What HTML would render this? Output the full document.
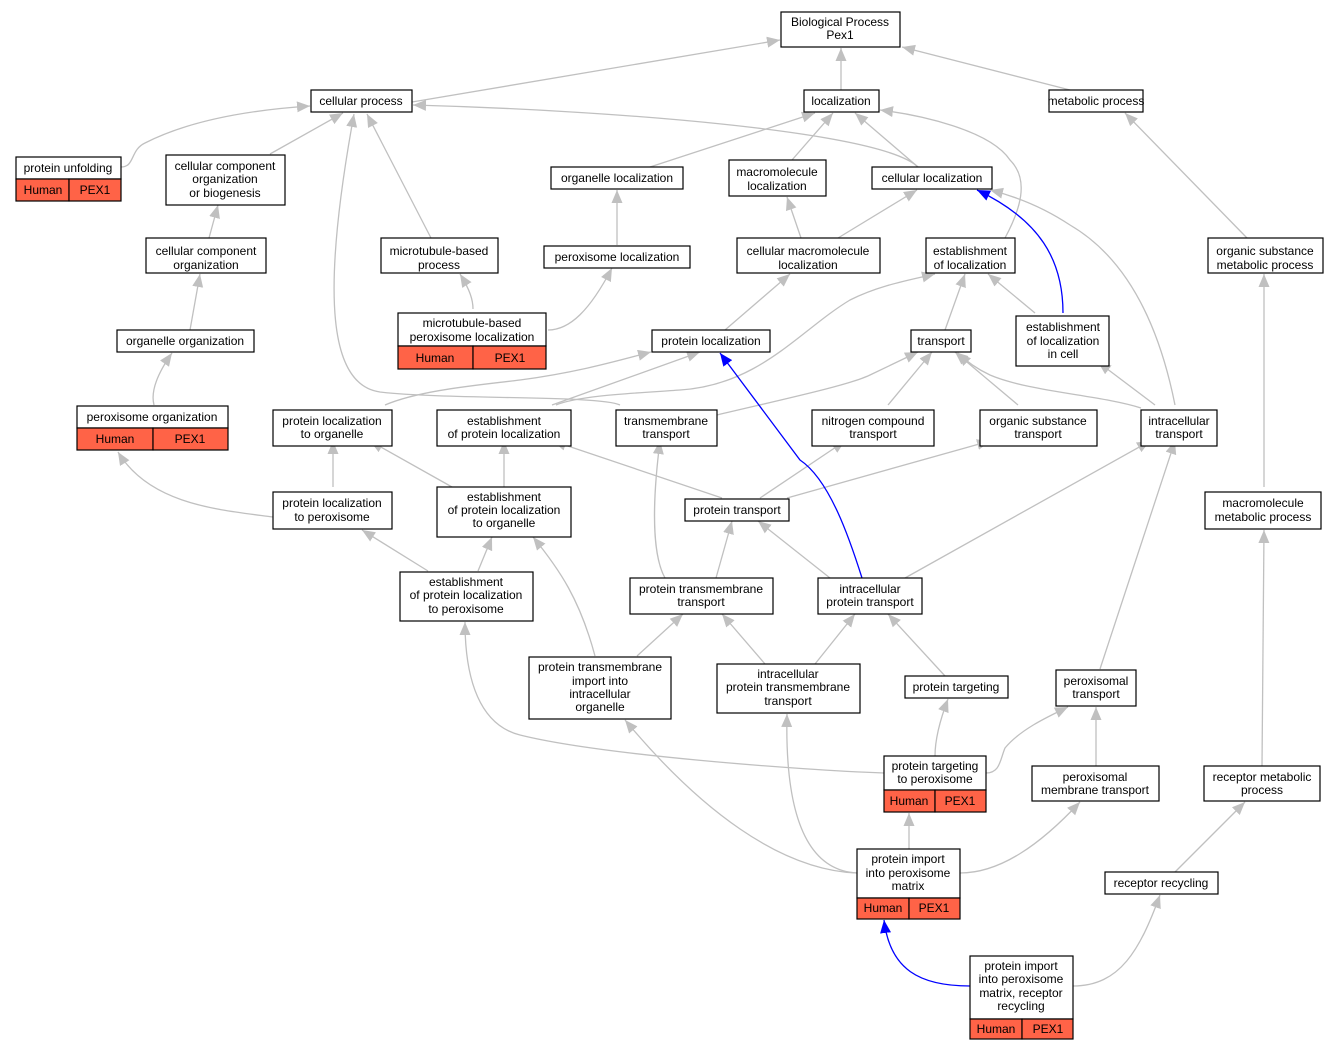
<!DOCTYPE html>
<html><head><meta charset="utf-8"><style>
body{margin:0;background:#fff}
svg{display:block}
text{font-family:"Liberation Sans",Arial,sans-serif;font-size:12px;fill:#000;text-anchor:middle}
.e{fill:none;stroke:#c0c0c0;stroke-width:1.3;marker-end:url(#g)}
.b{fill:none;stroke:#0000ff;stroke-width:1.3;marker-end:url(#bl)}
rect{fill:#fff;stroke:#000;stroke-width:1.2}
rect.r{fill:#ff6347}
</style></head><body>
<svg width="1337" height="1051" viewBox="0 0 1337 1051" xmlns="http://www.w3.org/2000/svg">
<defs>
<marker id="g" markerUnits="userSpaceOnUse" markerWidth="14" markerHeight="12" refX="13" refY="5.5" orient="auto"><path d="M0,0 L13,5.5 L0,11 z" fill="#c0c0c0"/></marker>
<marker id="bl" markerUnits="userSpaceOnUse" markerWidth="14" markerHeight="12" refX="13" refY="5.5" orient="auto"><path d="M0,0 L13,5.5 L0,11 z" fill="#0000ff"/></marker>
</defs>
<path class="e" d="M412,102 L780,40"/>
<path class="e" d="M841,90 L841,48"/>
<path class="e" d="M1070,90 L902,47"/>
<path class="e" d="M121,167 C135,167 130,150 145,143 C190,120 250,110 310,106"/>
<path class="e" d="M270,154 L343,113"/>
<path class="e" d="M620,405 C600,395 450,400 380,392 C330,385 320,300 354,114"/>
<path class="e" d="M431,238 L367,114"/>
<path class="e" d="M918,167 C880,130 600,110 413,105"/>
<path class="e" d="M650,167 L815,113"/>
<path class="e" d="M792,160 L833,113"/>
<path class="e" d="M918,167 L855,113"/>
<path class="e" d="M1005,238 C1020,210 1030,180 1010,160 C990,130 920,115 880,110"/>
<path class="e" d="M801,238 L787,197"/>
<path class="e" d="M838,238 L917,190"/>
<path class="b" d="M1063,313 C1063,260 1040,220 977,190"/>
<path class="e" d="M1175,405 C1160,330 1130,260 1070,225 C1040,205 1010,195 990,190"/>
<path class="e" d="M1247,238 L1125,113"/>
<path class="e" d="M209,238 L218,205"/>
<path class="e" d="M190,330 L200,274"/>
<path class="e" d="M154,405 C150,390 160,370 172,353"/>
<path class="e" d="M473,309 C473,300 470,290 460,274"/>
<path class="e" d="M548,330 C570,330 590,310 612,268"/>
<path class="e" d="M617,245 L617,190"/>
<path class="e" d="M725,330 L790,274"/>
<path class="e" d="M945,330 L965,274"/>
<path class="e" d="M1035,313 L988,274"/>
<path class="e" d="M556,405 C580,395 640,393 680,390 C760,385 800,330 850,300 C880,285 910,280 935,274"/>
<path class="e" d="M385,405 C420,390 480,385 520,380 C580,372 620,360 651,352"/>
<path class="e" d="M552,405 L700,352"/>
<path class="e" d="M717,415 C780,400 850,385 870,375 L918,352"/>
<path class="e" d="M888,405 L932,352"/>
<path class="e" d="M1018,405 L955,352"/>
<path class="e" d="M1141,408 C1100,395 1030,392 990,375 C975,368 965,360 958,353"/>
<path class="e" d="M1155,405 L1098,362"/>
<path class="e" d="M333,487 L333,441"/>
<path class="e" d="M273,517 C220,510 150,505 118,452"/>
<path class="e" d="M452,487 L370,441"/>
<path class="e" d="M504,487 L504,441"/>
<path class="e" d="M722,498 L553,441"/>
<path class="e" d="M760,498 L845,441"/>
<path class="e" d="M787,498 L990,441"/>
<path class="e" d="M1264,487 L1264,274"/>
<path class="e" d="M428,571 L362,530"/>
<path class="e" d="M478,571 L492,537"/>
<path class="e" d="M665,578 C655,560 650,520 660,441"/>
<path class="e" d="M716,578 L732,521"/>
<path class="e" d="M830,578 L758,521"/>
<path class="b" d="M862,578 C850,540 830,480 800,460 L720,353"/>
<path class="e" d="M905,578 L1150,441"/>
<path class="e" d="M1100,669 L1175,441"/>
<path class="e" d="M637,656 L683,614"/>
<path class="e" d="M595,656 C580,600 560,570 533,537"/>
<path class="e" d="M765,664 L722,614"/>
<path class="e" d="M815,664 L855,614"/>
<path class="e" d="M945,676 L888,614"/>
<path class="e" d="M935,756 C935,740 940,720 948,699"/>
<path class="e" d="M884,773 C800,770 600,755 520,735 C480,725 465,680 465,622"/>
<path class="e" d="M986,773 C1000,773 1000,760 1005,748 C1020,730 1045,718 1068,707"/>
<path class="e" d="M1096,766 L1096,707"/>
<path class="e" d="M1262,766 L1264,530"/>
<path class="e" d="M909,849 L909,813"/>
<path class="e" d="M857,873 C780,870 700,810 625,720"/>
<path class="e" d="M857,873 C800,870 785,800 787,714"/>
<path class="e" d="M960,873 C1000,873 1040,845 1080,802"/>
<path class="e" d="M1175,872 L1245,802"/>
<path class="b" d="M970,986 C920,986 890,970 884,920"/>
<path class="e" d="M1073,986 C1120,986 1140,950 1160,895"/>
<rect x="781" y="12" width="119" height="35"/><text x="840" y="26">Biological Process</text><text x="840" y="39">Pex1</text>
<rect x="311" y="90" width="101" height="22"/><text x="361" y="105">cellular process</text>
<rect x="804" y="90" width="75" height="22"/><text x="841" y="105">localization</text>
<rect x="1049" y="90" width="94" height="22"/><text x="1096" y="105">metabolic process</text>
<rect x="16" y="157" width="105" height="22"/><text x="68" y="172">protein unfolding</text>
<rect class="r" x="16" y="179" width="53" height="22"/><rect class="r" x="69" y="179" width="52" height="22"/><text x="43" y="194">Human</text><text x="95" y="194">PEX1</text>
<rect x="166" y="155" width="119" height="50"/><text x="225" y="170">cellular component</text><text x="225" y="183">organization</text><text x="225" y="197">or biogenesis</text>
<rect x="551" y="167" width="132" height="22"/><text x="617" y="182">organelle localization</text>
<rect x="729" y="160" width="97" height="36"/><text x="777" y="176">macromolecule</text><text x="777" y="190">localization</text>
<rect x="872" y="167" width="120" height="22"/><text x="932" y="182">cellular localization</text>
<rect x="146" y="238" width="120" height="35"/><text x="206" y="255">cellular component</text><text x="206" y="269">organization</text>
<rect x="381" y="238" width="117" height="35"/><text x="439" y="255">microtubule-based</text><text x="439" y="269">process</text>
<rect x="544" y="246" width="146" height="22"/><text x="617" y="261">peroxisome localization</text>
<rect x="737" y="238" width="143" height="35"/><text x="808" y="255">cellular macromolecule</text><text x="808" y="269">localization</text>
<rect x="926" y="238" width="89" height="35"/><text x="970" y="255">establishment</text><text x="970" y="269">of localization</text>
<rect x="1208" y="238" width="115" height="35"/><text x="1265" y="255">organic substance</text><text x="1265" y="269">metabolic process</text>
<rect x="398" y="313" width="148" height="33"/><text x="472" y="327">microtubule-based</text><text x="472" y="341">peroxisome localization</text>
<rect class="r" x="398" y="346" width="75" height="23"/><rect class="r" x="473" y="346" width="73" height="23"/><text x="435" y="362">Human</text><text x="510" y="362">PEX1</text>
<rect x="117" y="330" width="137" height="22"/><text x="185" y="345">organelle organization</text>
<rect x="652" y="330" width="118" height="22"/><text x="711" y="345">protein localization</text>
<rect x="911" y="330" width="60" height="22"/><text x="941" y="345">transport</text>
<rect x="1016" y="316" width="93" height="50"/><text x="1063" y="331">establishment</text><text x="1063" y="345">of localization</text><text x="1063" y="358">in cell</text>
<rect x="77" y="406" width="151" height="22"/><text x="152" y="421">peroxisome organization</text>
<rect class="r" x="77" y="428" width="76" height="22"/><rect class="r" x="153" y="428" width="75" height="22"/><text x="115" y="443">Human</text><text x="190" y="443">PEX1</text>
<rect x="273" y="410" width="119" height="36"/><text x="332" y="425">protein localization</text><text x="332" y="438">to organelle</text>
<rect x="437" y="410" width="134" height="36"/><text x="504" y="425">establishment</text><text x="504" y="438">of protein localization</text>
<rect x="616" y="410" width="101" height="36"/><text x="666" y="425">transmembrane</text><text x="666" y="438">transport</text>
<rect x="812" y="410" width="122" height="36"/><text x="873" y="425">nitrogen compound</text><text x="873" y="438">transport</text>
<rect x="980" y="410" width="117" height="36"/><text x="1038" y="425">organic substance</text><text x="1038" y="438">transport</text>
<rect x="1141" y="410" width="76" height="36"/><text x="1179" y="425">intracellular</text><text x="1179" y="438">transport</text>
<rect x="273" y="492" width="119" height="37"/><text x="332" y="507">protein localization</text><text x="332" y="521">to peroxisome</text>
<rect x="437" y="487" width="134" height="50"/><text x="504" y="501">establishment</text><text x="504" y="514">of protein localization</text><text x="504" y="527">to organelle</text>
<rect x="685" y="499" width="104" height="22"/><text x="737" y="514">protein transport</text>
<rect x="1205" y="492" width="116" height="37"/><text x="1263" y="507">macromolecule</text><text x="1263" y="521">metabolic process</text>
<rect x="400" y="572" width="133" height="49"/><text x="466" y="586">establishment</text><text x="466" y="599">of protein localization</text><text x="466" y="613">to peroxisome</text>
<rect x="630" y="578" width="143" height="36"/><text x="701" y="593">protein transmembrane</text><text x="701" y="606">transport</text>
<rect x="818" y="578" width="104" height="36"/><text x="870" y="593">intracellular</text><text x="870" y="606">protein transport</text>
<rect x="529" y="657" width="142" height="62"/><text x="600" y="671">protein transmembrane</text><text x="600" y="685">import into</text><text x="600" y="698">intracellular</text><text x="600" y="711">organelle</text>
<rect x="717" y="664" width="143" height="49"/><text x="788" y="678">intracellular</text><text x="788" y="691">protein transmembrane</text><text x="788" y="705">transport</text>
<rect x="905" y="676" width="103" height="22"/><text x="956" y="691">protein targeting</text>
<rect x="1056" y="670" width="80" height="36"/><text x="1096" y="685">peroxisomal</text><text x="1096" y="698">transport</text>
<rect x="884" y="756" width="102" height="34"/><text x="935" y="770">protein targeting</text><text x="935" y="783">to peroxisome</text>
<rect class="r" x="884" y="790" width="51" height="22"/><rect class="r" x="935" y="790" width="51" height="22"/><text x="909" y="805">Human</text><text x="960" y="805">PEX1</text>
<rect x="1032" y="766" width="127" height="35"/><text x="1095" y="781">peroxisomal</text><text x="1095" y="794">membrane transport</text>
<rect x="1204" y="766" width="116" height="35"/><text x="1262" y="781">receptor metabolic</text><text x="1262" y="794">process</text>
<rect x="857" y="849" width="103" height="49"/><text x="908" y="863">protein import</text><text x="908" y="877">into peroxisome</text><text x="908" y="890">matrix</text>
<rect class="r" x="857" y="898" width="52" height="21"/><rect class="r" x="909" y="898" width="51" height="21"/><text x="883" y="912">Human</text><text x="934" y="912">PEX1</text>
<rect x="1105" y="872" width="113" height="22"/><text x="1161" y="887">receptor recycling</text>
<rect x="970" y="956" width="103" height="63"/><text x="1021" y="970">protein import</text><text x="1021" y="983">into peroxisome</text><text x="1021" y="997">matrix, receptor</text><text x="1021" y="1010">recycling</text>
<rect class="r" x="970" y="1019" width="52" height="20"/><rect class="r" x="1022" y="1019" width="51" height="20"/><text x="996" y="1033">Human</text><text x="1048" y="1033">PEX1</text>
</svg>
</body></html>
